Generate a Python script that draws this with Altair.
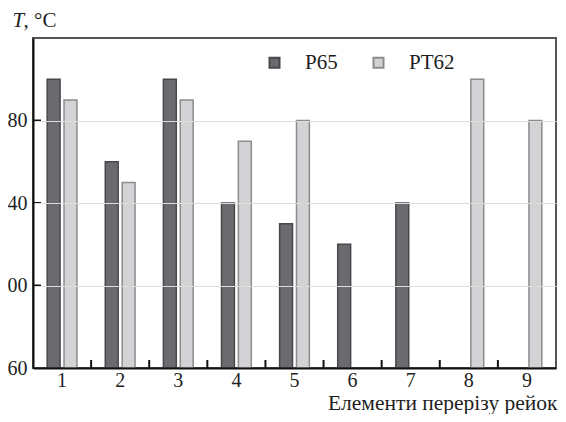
import altair as alt
import pandas as pd

categories = ["1", "2", "3", "4", "5", "6", "7", "8", "9"]
p65 = [300, 260, 300, 240, 230, 220, 240, None, None]
pt62 = [290, 250, 290, 270, 280, None, None, 300, 280]
series_names = ["P65", "PT62"]
y_ticks = [160, 200, 240, 280]
inner_ticks = [200, 240, 280]
y_min, y_max = 160, 320
x_title = "Елементи перерізу рейок"
y_title_a = "T"
y_title_b = ", °C"

rows = []
for c, a, b in zip(categories, p65, pt62):
    if a is not None:
        rows.append({"cat": c, "series": series_names[0], "T": a})
    if b is not None:
        rows.append({"cat": c, "series": series_names[1], "T": b})
df = pd.DataFrame(rows)

# tick marks inside the frame: between categories and at the y tick values
df_xt = pd.DataFrame({"cat": categories[1:], "T": [y_min] * (len(categories) - 1)})
df_yt = pd.DataFrame({"T": inner_ticks})

W, H = 523, 330
FONT = "Liberation Serif"
INK = "#1e1e1e"

x_scale = alt.Scale(domain=categories, paddingInner=0, paddingOuter=0)
y_scale = alt.Scale(domain=[y_min, y_max], nice=False, zero=False)
off_scale = alt.Scale(domain=series_names, paddingInner=0.235, paddingOuter=0.84)
color_scale = alt.Scale(domain=series_names, range=["#6b6b6f", "#d3d3d5"])
stroke_scale = alt.Scale(domain=series_names, range=["#48484c", "#8c8c8e"])

bars = alt.Chart(df).mark_bar(strokeWidth=1.5).encode(
    x=alt.X(
        "cat:N", sort=categories, scale=x_scale,
        axis=alt.Axis(
            orient="bottom", ticks=False, labelAngle=0, labelFont=FONT, labelFontSize=20,
            labelColor=INK, labelPadding=2, domainColor="#111", domainWidth=2, zindex=1,
            title=x_title, titleFont=FONT, titleFontSize=21.5, titleFontWeight="normal",
            titleColor=INK, titleX=W + 1, titleY=41, titleAlign="right",
            titleBaseline="alphabetic",
        ),
    ),
    xOffset=alt.XOffset("series:N", scale=off_scale),
    y=alt.Y(
        "T:Q", scale=y_scale,
        axis=alt.Axis(
            orient="left", values=y_ticks, ticks=False, labelFont=FONT, labelFontSize=20,
            labelColor=INK, labelPadding=6, domainColor="#111", domainWidth=2, zindex=1,
            title=y_title_a, titleFont=FONT, titleFontSize=21, titleFontStyle="italic",
            titleFontWeight="normal", titleColor=INK, titleAngle=0, titleX=-21, titleY=-12,
            titleAlign="left", titleBaseline="alphabetic",
        ),
    ),
    y2=alt.datum(y_min),
    color=alt.Color(
        "series:N", scale=color_scale,
        legend=alt.Legend(
            title=None, orient="none", legendX=231, legendY=14, direction="horizontal",
            symbolType="square", symbolSize=100, symbolStrokeColor="#2a2a2a",
            symbolStrokeWidth=2, labelFont=FONT, labelFontSize=21, labelColor=INK,
            labelOffset=20, columnPadding=30,
        ),
    ),
    stroke=alt.Stroke("series:N", scale=stroke_scale, legend=None),
)

x_ticks = alt.Chart(df_xt).mark_tick(
    orient="vertical", size=16, thickness=2, color="#111", clip=True, opacity=1
).encode(
    x=alt.X("cat:N", sort=categories, scale=x_scale, bandPosition=0),
    y=alt.Y(
        "T:Q", scale=y_scale,
        axis=alt.Axis(
            orient="right", offset=-W, ticks=False, labels=False, domain=False, grid=False,
            title=y_title_b, titleFont=FONT, titleFontSize=21, titleFontWeight="normal",
            titleColor=INK, titleAngle=0, titleX=-10, titleY=-12, titleAlign="left",
            titleBaseline="alphabetic",
        ),
    ),
)

y_ticks_layer = alt.Chart(df_yt).mark_tick(
    orient="horizontal", size=16, thickness=2, color="#111", clip=True, opacity=1
).encode(
    x=alt.value(0),
    y=alt.Y("T:Q", scale=y_scale, axis=None),
)

chart = (
    alt.layer(bars, x_ticks, y_ticks_layer)
    .resolve_axis(y="independent")
    .properties(
        width=W, height=H,
        autosize=alt.AutoSizeParams(type="none"),
        padding={"left": 25, "top": 30, "right": 2, "bottom": 46},
    )
    .configure_view(stroke="#555", strokeWidth=2)
)

chart.save("out.html", embed_options={"renderer": "svg", "actions": False})
